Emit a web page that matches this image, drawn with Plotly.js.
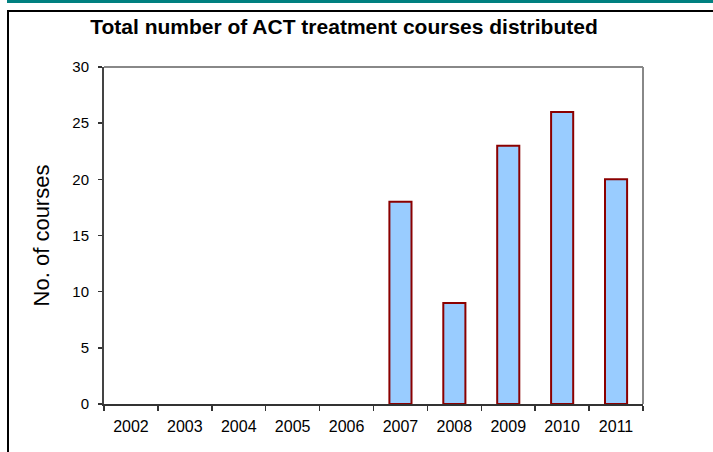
<!DOCTYPE html>
<html>
<head>
<meta charset="utf-8">
<script src="https://cdn.plot.ly/plotly-3.0.1.min.js"></script>
<style>
  html, body { margin: 0; padding: 0; background: #fff; }
  #wrap { position: relative; width: 713px; height: 452px; overflow: hidden; }
  #chart { position: absolute; left: 0; top: 0; width: 713px; height: 452px; }
  #teal { position: absolute; left: 7px; top: 0; width: 706px; height: 3px; background: #008080; pointer-events: none; }
  #frame { position: absolute; left: 7px; top: 10px; width: 720px; height: 460px;
           border-left: 2px solid #000; border-top: 2px solid #000; pointer-events: none; }
</style>
</head>
<body>
<div id="wrap">
  <div id="chart"></div>
  <div id="teal"></div>
  <div id="frame"></div>
</div>
<script>
const years = ["2002","2003","2004","2005","2006","2007","2008","2009","2010","2011"];
const courses = [null, null, null, null, null, 18, 9, 23, 26, 20];
const yTicks = [0, 5, 10, 15, 20, 25, 30];

const trace = {
  type: "bar",
  x: years,
  y: courses,
  width: 0.41,
  marker: { color: "#99CCFF", line: { color: "#8B0000", width: 2 } },
  hoverinfo: "x+y"
};

const layout = {
  width: 713,
  height: 452,
  margin: { l: 104, r: 70, t: 67, b: 48, pad: 0 },
  paper_bgcolor: "#ffffff",
  plot_bgcolor: "#ffffff",
  showlegend: false,
  font: { family: "Liberation Sans, Arial, sans-serif", color: "#000" },
  title: {
    text: "<b>Total number of ACT treatment courses distributed</b>",
    font: { size: 21, family: "Liberation Sans, Arial, sans-serif", color: "#000" },
    xref: "container", x: 344 / 713, xanchor: "center",
    yref: "container", y: 1 - 19 / 452, yanchor: "top"
  },
  xaxis: {
    type: "category",
    tickson: "boundaries",
    ticks: "outside",
    ticklen: 5,
    tickwidth: 1.5,
    tickcolor: "#333",
    ticklabelstandoff: 7,
    showline: true,
    linecolor: "#333",
    linewidth: 2,
    showgrid: false,
    zeroline: false,
    tickfont: { size: 16, color: "#000" },
    fixedrange: true
  },
  yaxis: {
    range: [0, 30],
    tickvals: yTicks,
    ticktext: yTicks.map(String),
    ticks: "outside",
    ticklen: 4,
    tickwidth: 1.5,
    tickcolor: "#333",
    ticklabelstandoff: 6,
    showline: true,
    linecolor: "#444",
    linewidth: 2,
    showgrid: false,
    zeroline: false,
    tickfont: { size: 15, color: "#000" },
    title: { text: "No. of courses", font: { size: 22, color: "#000" }, standoff: 17 },
    fixedrange: true
  },
  shapes: [
    { type: "line", xref: "paper", yref: "paper", x0: 0, x1: 1, y0: 1, y1: 1,
      line: { color: "#888", width: 2 } },
    { type: "line", xref: "paper", yref: "paper", x0: 1, x1: 1, y0: 0, y1: 1,
      line: { color: "#888", width: 2 } }
  ]
};

Plotly.newPlot("chart", [trace], layout, { displayModeBar: false, staticPlot: true });
</script>
</body>
</html>
